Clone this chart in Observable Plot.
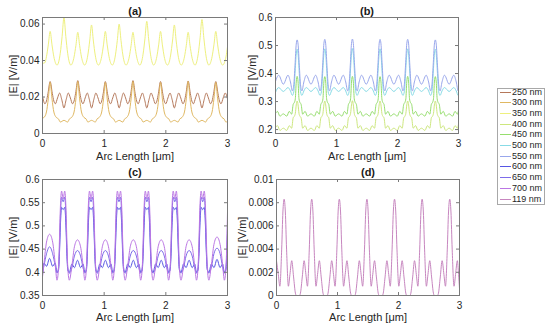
<!DOCTYPE html>
<html><head><meta charset="utf-8">
<script src="https://cdn.jsdelivr.net/npm/d3@7"></script>
<script src="https://cdn.jsdelivr.net/npm/@observablehq/plot@0.6"></script>
<style>
body{margin:0;background:#fff;}
#root{position:relative;width:550px;height:332px;overflow:hidden;font-family:"Liberation Sans",Arial,Helvetica,sans-serif;}
.cell{position:absolute;}
.cell svg{max-width:none;}
#legend{position:absolute;left:497px;top:88px;width:48px;height:117px;border:1px solid #a8a8a8;background:#fff;box-sizing:border-box;}
.row{position:absolute;left:0;height:11px;font-size:9px;color:#262626;line-height:11px;white-space:nowrap;}
.row i{position:absolute;left:2px;top:5px;width:11px;height:0;border-top:1px solid;}
.row span{position:absolute;left:14px;top:0;}
</style></head><body><div id="root"></div><script>
// ---------- labels ----------
const legendNames = ["250 nm","300 nm","350 nm","400 nm","450 nm","500 nm","550 nm","600 nm","650 nm","700 nm","119 nm"];
const legendColors = ["#b5785a","#e0b862","#eef07e","#cde77e","#96de6e","#88dbe6","#99a7ec","#5656e4","#7e6cea","#bb76e4","#c786bf"];
const xTicks = [0, 1, 2, 3];
const yTicksA = [0, 0.02, 0.04, 0.06];
const yTicksB = [0.2, 0.3, 0.4, 0.5, 0.6];
const yTicksC = [0.35, 0.4, 0.45, 0.5, 0.55, 0.6];
const yTicksD = [0, 0.002, 0.004, 0.006, 0.008, 0.01];
const xLabel = "Arc Length [\u03bcm]";
const yLabel = "|E| [V/m]";

// ---------- panel (a) ----------
const x250 = [0,0.039,0.064,0.089,
 0.124,0.159,0.184,0.209,0.244,0.278,0.313,0.348,0.383,0.418,0.452,0.487,0.512,0.537,
 0.572,0.607,0.632,0.657,0.692,0.726,0.761,0.796,0.831,0.866,0.9,0.935,0.96,0.985,
 1.019,1.054,1.079,1.104,1.139,1.173,1.208,1.243,1.278,1.313,1.347,1.382,1.407,1.432,
 1.467,1.502,1.527,1.552,1.587,1.621,1.656,1.691,1.726,1.761,1.795,1.83,1.855,1.88,
 1.914,1.949,1.974,1.999,2.034,2.068,2.103,2.138,2.173,2.208,2.242,2.277,2.302,2.327,
 2.362,2.397,2.422,2.447,2.482,2.516,2.551,2.586,2.621,2.656,2.69,2.725,2.75,2.775,
 2.81,2.845,2.87,2.895,2.93,2.964,3.0];
const y250 = [0.0205,0.0163,0.0178,0.022,
 0.0285,0.022,0.0178,0.0163,0.0195,0.0222,0.0185,0.014,0.0185,0.0222,0.0195,0.0163,0.0178,0.022,
 0.029,0.022,0.0178,0.0163,0.0195,0.0222,0.0185,0.014,0.0185,0.0222,0.0195,0.0163,0.0178,0.022,
 0.0285,0.022,0.0178,0.0163,0.0195,0.0222,0.0185,0.014,0.0185,0.0222,0.0195,0.0163,0.0178,0.022,
 0.029,0.022,0.0178,0.0163,0.0195,0.0222,0.0185,0.014,0.0185,0.0222,0.0195,0.0163,0.0178,0.022,
 0.0285,0.022,0.0178,0.0163,0.0195,0.0222,0.0185,0.014,0.0185,0.0222,0.0195,0.0163,0.0178,0.022,
 0.0288,0.022,0.0178,0.0163,0.0195,0.0222,0.0185,0.014,0.0185,0.0222,0.0195,0.0163,0.0178,0.022,
 0.0285,0.022,0.0178,0.0163,0.0195,0.0222,0.019];

const x300 = [0,0.024,0.064,0.094,
 0.124,0.154,0.184,0.224,0.259,0.288,0.348,0.408,0.437,0.472,0.512,0.542,
 0.572,0.602,0.632,0.672,0.707,0.736,0.796,0.856,0.885,0.92,0.96,0.99,
 1.019,1.049,1.079,1.119,1.154,1.183,1.243,1.303,1.332,1.367,1.407,1.437,
 1.467,1.497,1.527,1.567,1.602,1.631,1.691,1.751,1.78,1.815,1.855,1.885,
 1.914,1.944,1.974,2.014,2.049,2.078,2.138,2.198,2.227,2.262,2.302,2.332,
 2.362,2.392,2.422,2.462,2.497,2.526,2.586,2.646,2.675,2.71,2.75,2.78,
 2.81,2.84,2.87,2.91,2.945,2.974,3.0];
const y300 = [0.0085,0.0088,0.0118,0.019,
 0.028,0.019,0.0118,0.0088,0.008,0.0063,0.0072,0.0063,0.008,0.0088,0.0118,0.019,
 0.0285,0.019,0.0118,0.0088,0.008,0.0063,0.0072,0.0063,0.008,0.0088,0.0118,0.019,
 0.028,0.019,0.0118,0.0088,0.008,0.0063,0.0072,0.0063,0.008,0.0088,0.0118,0.019,
 0.0285,0.019,0.0118,0.0088,0.008,0.0063,0.0072,0.0063,0.008,0.0088,0.0118,0.019,
 0.028,0.019,0.0118,0.0088,0.008,0.0063,0.0072,0.0063,0.008,0.0088,0.0118,0.019,
 0.0285,0.019,0.0118,0.0088,0.008,0.0063,0.0072,0.0063,0.008,0.0088,0.0118,0.019,
 0.028,0.019,0.0118,0.0088,0.008,0.0063,0.0066];

const x350 = [0,0.039,0.064,0.094,0.124,0.154,0.184,0.209,0.236,
 0.263,0.288,0.318,0.348,0.378,0.408,0.433,0.46,
 0.487,0.512,0.542,0.572,0.602,0.632,0.657,0.684,
 0.71,0.735,0.765,0.795,0.825,0.855,0.88,0.907,
 0.934,0.959,0.989,1.019,1.049,1.079,1.104,1.131,
 1.158,1.183,1.213,1.243,1.273,1.303,1.328,1.355,
 1.382,1.407,1.437,1.467,1.497,1.527,1.552,1.579,
 1.606,1.631,1.661,1.691,1.721,1.751,1.776,1.803,
 1.829,1.854,1.884,1.914,1.944,1.974,1.999,2.026,
 2.053,2.078,2.108,2.138,2.168,2.198,2.223,2.25,
 2.277,2.302,2.332,2.362,2.392,2.422,2.447,2.474,
 2.501,2.526,2.556,2.586,2.616,2.646,2.671,2.698,
 2.725,2.75,2.78,2.81,2.84,2.87,2.895,2.922,
 2.95,2.975,3.0];
const y350 = [0.0385,0.0388,0.0421,0.0486,0.056,0.0486,0.0421,0.0388,0.0375,
 0.0393,0.044,0.0532,0.0636,0.0532,0.044,0.0393,0.0375,
 0.0388,0.042,0.0483,0.0555,0.0483,0.042,0.0388,0.0375,
 0.039,0.043,0.0507,0.0595,0.0507,0.043,0.039,0.0375,
 0.0388,0.0421,0.0486,0.056,0.0486,0.0421,0.0388,0.0375,
 0.039,0.0431,0.051,0.06,0.051,0.0431,0.039,0.0375,
 0.0388,0.042,0.0483,0.0555,0.0483,0.042,0.0388,0.0375,
 0.0392,0.0435,0.0519,0.0615,0.0519,0.0435,0.0392,0.0375,
 0.0388,0.0421,0.0486,0.056,0.0486,0.0421,0.0388,0.0375,
 0.039,0.043,0.0507,0.0595,0.0507,0.043,0.039,0.0375,
 0.0388,0.042,0.0483,0.0555,0.0483,0.042,0.0388,0.0375,
 0.0393,0.0438,0.0525,0.0625,0.0525,0.0438,0.0393,0.0375,
 0.0388,0.0421,0.0486,0.056,0.0486,0.0421,0.0388,0.0375,
 0.0388,0.042,0.0475];

// ---------- panel (b) ----------
const xB1 = [0,0.052,
 0.1285,0.205,0.245,0.277,0.3,0.32,0.34,0.355,0.37,0.39,0.41,0.433,0.465,0.505,
 0.5815,0.658,0.698,0.73,0.753,0.773,0.793,0.808,0.823,0.843,0.863,0.886,0.918,0.958,
 1.0345,1.111,1.151,1.183,1.206,1.226,1.246,1.261,1.276,1.296,1.316,1.339,1.371,1.411,
 1.4875,1.564,1.604,1.636,1.659,1.679,1.699,1.714,1.729,1.749,1.769,1.792,1.824,1.864,
 1.9405,2.017,2.057,2.089,2.112,2.132,2.152,2.167,2.182,2.202,2.222,2.245,2.277,2.317,
 2.3935,2.47,2.51,2.542,2.565,2.585,2.605,2.62,2.635,2.655,2.675,2.698,2.73,2.77,
 2.8465,2.923,2.963,2.995,3.0];
const y550 = [0.372,0.394,
 0.362,0.394,0.37,0.338,0.36,0.43,0.505,0.52,0.505,0.43,0.36,0.338,0.37,0.394,
 0.362,0.394,0.37,0.338,0.36,0.43,0.506,0.522,0.506,0.43,0.36,0.338,0.37,0.394,
 0.362,0.394,0.37,0.338,0.36,0.43,0.507,0.523,0.507,0.43,0.36,0.338,0.37,0.394,
 0.362,0.394,0.37,0.338,0.36,0.43,0.506,0.522,0.506,0.43,0.36,0.338,0.37,0.394,
 0.362,0.394,0.37,0.338,0.36,0.43,0.506,0.522,0.506,0.43,0.36,0.338,0.37,0.394,
 0.362,0.394,0.37,0.338,0.36,0.43,0.505,0.52,0.505,0.43,0.36,0.338,0.37,0.394,
 0.362,0.394,0.37,0.338,0.342];
const y500 = [0.333,0.35,
 0.336,0.35,0.338,0.322,0.335,0.40,0.47,0.487,0.47,0.40,0.335,0.322,0.338,0.35,
 0.336,0.35,0.338,0.322,0.335,0.40,0.47,0.488,0.47,0.40,0.335,0.322,0.338,0.35,
 0.336,0.35,0.338,0.322,0.335,0.40,0.47,0.489,0.47,0.40,0.335,0.322,0.338,0.35,
 0.336,0.35,0.338,0.322,0.335,0.40,0.47,0.488,0.47,0.40,0.335,0.322,0.338,0.35,
 0.336,0.35,0.338,0.322,0.335,0.40,0.47,0.488,0.47,0.40,0.335,0.322,0.338,0.35,
 0.336,0.35,0.338,0.322,0.335,0.40,0.47,0.487,0.47,0.40,0.335,0.322,0.338,0.35,
 0.336,0.35,0.338,0.322,0.325];
const xB2 = [0,0.032,0.072,
 0.1285,0.185,0.225,0.265,0.29,0.31,0.325,0.34,0.355,0.37,0.385,0.4,0.42,0.445,0.485,0.525,
 0.5815,0.638,0.678,0.718,0.743,0.763,0.778,0.793,0.808,0.823,0.838,0.853,0.873,0.898,0.938,0.978,
 1.0345,1.091,1.131,1.171,1.196,1.216,1.231,1.246,1.261,1.276,1.291,1.306,1.326,1.351,1.391,1.431,
 1.4875,1.544,1.584,1.624,1.649,1.669,1.684,1.699,1.714,1.729,1.744,1.759,1.779,1.804,1.844,1.884,
 1.9405,1.997,2.037,2.077,2.102,2.122,2.137,2.152,2.167,2.182,2.197,2.212,2.232,2.257,2.297,2.337,
 2.3935,2.45,2.49,2.53,2.555,2.575,2.59,2.605,2.62,2.635,2.65,2.665,2.685,2.71,2.75,2.79,
 2.8465,2.903,2.943,2.983,3.0];
const y450 = [0.257,0.265,0.248,
 0.256,0.248,0.265,0.255,0.29,0.297,0.31,0.37,0.39,0.37,0.31,0.297,0.29,0.255,0.265,0.248,
 0.256,0.248,0.265,0.255,0.29,0.297,0.31,0.37,0.389,0.37,0.31,0.297,0.29,0.255,0.265,0.248,
 0.256,0.248,0.265,0.255,0.29,0.297,0.31,0.37,0.39,0.37,0.31,0.297,0.29,0.255,0.265,0.248,
 0.256,0.248,0.265,0.255,0.29,0.297,0.31,0.37,0.389,0.37,0.31,0.297,0.29,0.255,0.265,0.248,
 0.256,0.248,0.265,0.255,0.29,0.297,0.31,0.37,0.39,0.37,0.31,0.297,0.29,0.255,0.265,0.248,
 0.256,0.248,0.265,0.255,0.29,0.297,0.31,0.37,0.389,0.37,0.31,0.297,0.29,0.255,0.265,0.248,
 0.256,0.248,0.265,0.255,0.268];
const y400 = [0.207,0.214,0.197,
 0.205,0.197,0.214,0.205,0.242,0.248,0.258,0.288,0.302,0.288,0.258,0.248,0.242,0.205,0.214,0.197,
 0.205,0.197,0.214,0.205,0.242,0.248,0.258,0.288,0.302,0.288,0.258,0.248,0.242,0.205,0.214,0.197,
 0.205,0.197,0.214,0.205,0.242,0.248,0.258,0.288,0.303,0.288,0.258,0.248,0.242,0.205,0.214,0.197,
 0.205,0.197,0.214,0.205,0.242,0.248,0.258,0.288,0.302,0.288,0.258,0.248,0.242,0.205,0.214,0.197,
 0.205,0.197,0.214,0.205,0.242,0.248,0.258,0.288,0.302,0.288,0.258,0.248,0.242,0.205,0.214,0.197,
 0.205,0.197,0.214,0.205,0.242,0.248,0.258,0.288,0.302,0.288,0.258,0.248,0.242,0.205,0.214,0.197,
 0.205,0.197,0.214,0.205,0.22];

// ---------- panel (c) ----------
const xC = [0,
 0.025,0.065,0.115,0.165,0.205,
 0.235,0.26,0.275,0.29,0.31,0.335,0.36,0.38,0.395,0.41,0.435,
 0.4775,0.5175,0.5675,0.6175,0.6575,
 0.6875,0.7125,0.7275,0.7425,0.7625,0.7875,0.8125,0.8325,0.8475,0.8625,0.8875,
 0.93,0.97,1.02,1.07,1.11,
 1.14,1.165,1.18,1.195,1.215,1.24,1.265,1.285,1.3,1.315,1.34,
 1.3825,1.4225,1.4725,1.5225,1.5625,
 1.5925,1.6175,1.6325,1.6475,1.6675,1.6925,1.7175,1.7375,1.7525,1.7675,1.7925,
 1.835,1.875,1.925,1.975,2.015,
 2.045,2.07,2.085,2.1,2.12,2.145,2.17,2.19,2.205,2.22,2.245,
 2.2875,2.3275,2.3775,2.4275,2.4675,
 2.4975,2.5225,2.5375,2.5525,2.5725,2.5975,2.6225,2.6425,2.6575,2.6725,2.6975,
 2.74,2.78,2.83,2.88,2.92,
 2.95,2.975,2.99,3.0];
const y600 = [0.395,
 0.42,0.413,0.43,0.413,0.42,
 0.40,0.405,0.44,0.50,0.54,0.535,0.54,0.50,0.44,0.405,0.40,
 0.418,0.41,0.426,0.41,0.418,
 0.40,0.405,0.44,0.50,0.54,0.535,0.54,0.50,0.44,0.405,0.40,
 0.418,0.41,0.426,0.41,0.418,
 0.40,0.405,0.44,0.50,0.54,0.535,0.54,0.50,0.44,0.405,0.40,
 0.418,0.41,0.426,0.41,0.418,
 0.40,0.405,0.44,0.50,0.54,0.535,0.54,0.50,0.44,0.405,0.40,
 0.418,0.41,0.426,0.41,0.418,
 0.40,0.405,0.44,0.50,0.54,0.535,0.54,0.50,0.44,0.405,0.40,
 0.418,0.41,0.426,0.41,0.418,
 0.40,0.405,0.44,0.50,0.54,0.535,0.54,0.50,0.44,0.405,0.40,
 0.418,0.41,0.428,0.41,0.418,
 0.40,0.405,0.44,0.48];
const y650 = [0.40,
 0.415,0.44,0.455,0.44,0.415,
 0.398,0.41,0.45,0.52,0.562,0.552,0.562,0.52,0.45,0.41,0.398,
 0.41,0.435,0.447,0.435,0.41,
 0.398,0.41,0.45,0.52,0.562,0.552,0.562,0.52,0.45,0.41,0.398,
 0.41,0.435,0.447,0.435,0.41,
 0.398,0.41,0.45,0.52,0.562,0.552,0.562,0.52,0.45,0.41,0.398,
 0.41,0.435,0.447,0.435,0.41,
 0.398,0.41,0.45,0.52,0.562,0.552,0.562,0.52,0.45,0.41,0.398,
 0.41,0.435,0.447,0.435,0.41,
 0.398,0.41,0.45,0.52,0.562,0.552,0.562,0.52,0.45,0.41,0.398,
 0.41,0.435,0.447,0.435,0.41,
 0.398,0.41,0.45,0.52,0.562,0.552,0.562,0.52,0.45,0.41,0.398,
 0.412,0.44,0.452,0.44,0.412,
 0.398,0.41,0.45,0.50];
const y700 = [0.39,
 0.42,0.465,0.482,0.465,0.42,
 0.383,0.41,0.47,0.54,0.575,0.558,0.575,0.54,0.47,0.41,0.383,
 0.415,0.455,0.47,0.455,0.415,
 0.383,0.41,0.47,0.54,0.575,0.558,0.575,0.54,0.47,0.41,0.383,
 0.415,0.455,0.47,0.455,0.415,
 0.383,0.41,0.47,0.54,0.575,0.558,0.575,0.54,0.47,0.41,0.383,
 0.415,0.455,0.47,0.455,0.415,
 0.383,0.41,0.47,0.54,0.575,0.558,0.575,0.54,0.47,0.41,0.383,
 0.415,0.455,0.47,0.455,0.415,
 0.383,0.41,0.47,0.54,0.575,0.558,0.575,0.54,0.47,0.41,0.383,
 0.415,0.455,0.47,0.455,0.415,
 0.383,0.41,0.47,0.54,0.575,0.558,0.575,0.54,0.47,0.41,0.383,
 0.418,0.46,0.476,0.46,0.418,
 0.383,0.41,0.47,0.53];

// ---------- panel (d) ----------
const x119 = [0,0.03,0.055,0.085,0.105,0.125,0.145,0.165,0.195,0.22,0.25,0.28,0.31,0.325,0.3775,0.3925,0.4225,
 0.4525,0.4825,0.5075,0.5375,0.5575,0.5775,0.5975,0.6175,0.6475,0.6725,0.7025,0.7325,0.7625,0.7775,0.83,0.845,0.875,
 0.905,0.935,0.96,0.99,1.01,1.03,1.05,1.07,1.1,1.125,1.155,1.185,1.215,1.23,1.2825,1.2975,1.3275,
 1.3575,1.3875,1.4125,1.4425,1.4625,1.4825,1.5025,1.5225,1.5525,1.5775,1.6075,1.6375,1.6675,1.6825,1.735,1.75,1.78,
 1.81,1.84,1.865,1.895,1.915,1.935,1.955,1.975,2.005,2.03,2.06,2.09,2.12,2.135,2.1875,2.2025,2.2325,
 2.2625,2.2925,2.3175,2.3475,2.3675,2.3875,2.4075,2.4275,2.4575,2.4825,2.5125,2.5425,2.5725,2.5875,2.64,2.655,2.685,
 2.715,2.745,2.77,2.8,2.82,2.84,2.86,2.88,2.91,2.935,2.965,2.985,3.0];
const y119 = [0.003,0.0018,0.0008,0.004,0.0072,0.0083,0.0072,0.004,0.0008,0.0018,0.003,0.0016,0.0002,0,0,0.0002,0.0016,
 0.003,0.0018,0.0008,0.004,0.0072,0.0083,0.0072,0.004,0.0008,0.0018,0.003,0.0016,0.0002,0,0,0.0002,0.0016,
 0.003,0.0018,0.0008,0.004,0.0072,0.0083,0.0072,0.004,0.0008,0.0018,0.003,0.0016,0.0002,0,0,0.0002,0.0016,
 0.003,0.0018,0.0008,0.004,0.0072,0.0083,0.0072,0.004,0.0008,0.0018,0.003,0.0016,0.0002,0,0,0.0002,0.0016,
 0.003,0.0018,0.0008,0.004,0.0072,0.0083,0.0072,0.004,0.0008,0.0018,0.003,0.0016,0.0002,0,0,0.0002,0.0016,
 0.003,0.0018,0.0008,0.004,0.0072,0.0083,0.0072,0.004,0.0008,0.0018,0.003,0.0016,0.0002,0,0,0.0002,0.0016,
 0.003,0.0018,0.0008,0.004,0.0072,0.0083,0.0072,0.004,0.0008,0.0018,0.003,0.0018,0.0006];

// ---------- build ----------
function zipXY(xs, ys) {
  const n = Math.min(xs.length, ys.length);
  return d3.range(n).map(i => ({x: xs[i], y: ys[i]}));
}
const FONT = '"Liberation Sans", Arial, Helvetica, sans-serif';
const AX = "#7a7a7a";
const root = document.getElementById("root");

function panel(cfg) {
  const fw = cfg.width - cfg.ml - cfg.mr;
  const fh = cfg.height - cfg.mt - cfg.mb;
  const marks = [];
  for (const s of cfg.series) {
    marks.push(Plot.line(zipXY(s.xs, s.ys), {x: "x", y: "y", stroke: legendColors[s.ci], strokeWidth: 1, curve: "monotone-x", clip: true}));
  }
  marks.push(Plot.frame({stroke: AX, strokeWidth: 1}));
  marks.push(Plot.tickY(cfg.yTicks, {y: d => d, insetRight: fw - 3, stroke: AX}));
  marks.push(Plot.tickY(cfg.yTicks, {y: d => d, insetLeft: fw - 3, stroke: AX}));
  marks.push(Plot.tickX(xTicks, {x: d => d, insetTop: fh - 3, stroke: AX}));
  marks.push(Plot.tickX(xTicks, {x: d => d, insetBottom: fh - 3, stroke: AX}));
  marks.push(Plot.text([cfg.title], {frameAnchor: "top", dy: cfg.titleDy, fontWeight: "bold", fontSize: 11, textAnchor: "middle", lineAnchor: "middle", fill: "#1a1a1a"}));
  marks.push(Plot.text([xLabel], {frameAnchor: "bottom", dy: cfg.xlDy, fontSize: 11, textAnchor: "middle", lineAnchor: "middle", fill: "#262626"}));
  marks.push(Plot.text([yLabel], {frameAnchor: "left", dx: cfg.ylDx, rotate: -90, fontSize: 11, textAnchor: "middle", lineAnchor: "middle", fill: "#262626"}));
  const svg = Plot.plot({
    width: cfg.width, height: cfg.height,
    marginLeft: cfg.ml, marginRight: cfg.mr, marginTop: cfg.mt, marginBottom: cfg.mb,
    style: {fontFamily: FONT, fontSize: "10px", color: "#262626", background: "none", overflow: "visible"},
    x: {domain: [0, 3], ticks: xTicks, tickFormat: d => String(d), tickSize: 0, tickPadding: 6, label: null},
    y: {domain: cfg.yDomain, ticks: cfg.yTicks, tickFormat: d => String(d), tickSize: 0, tickPadding: 3, label: null},
    marks
  });
  const div = document.createElement("div");
  div.className = "cell";
  div.style.left = cfg.left + "px";
  div.style.top = cfg.top + "px";
  div.appendChild(svg);
  root.appendChild(div);
}

panel({left: 0, top: 0, width: 240, height: 165, ml: 42, mr: 13, mt: 17, mb: 32,
  yDomain: [0, 0.0636], yTicks: yTicksA, title: "(a)", titleDy: -6, xlDy: 23, ylDx: -29,
  series: [{xs: x250, ys: y250, ci: 0}, {xs: x300, ys: y300, ci: 1}, {xs: x350, ys: y350, ci: 2}]});
panel({left: 240, top: 0, width: 250, height: 165, ml: 35, mr: 32, mt: 17, mb: 32,
  yDomain: [0.186, 0.6], yTicks: yTicksB, title: "(b)", titleDy: -6, xlDy: 23, ylDx: -23,
  series: [{xs: xB2, ys: y400, ci: 3}, {xs: xB2, ys: y450, ci: 4}, {xs: xB1, ys: y500, ci: 5}, {xs: xB1, ys: y550, ci: 6}]});
panel({left: 0, top: 165, width: 240, height: 167, ml: 42, mr: 13, mt: 14, mb: 37,
  yDomain: [0.35, 0.6], yTicks: yTicksC, title: "(c)", titleDy: -7, xlDy: 22, ylDx: -29,
  series: [{xs: xC, ys: y600, ci: 7}, {xs: xC, ys: y650, ci: 8}, {xs: xC, ys: y700, ci: 9}]});
panel({left: 232, top: 165, width: 250, height: 167, ml: 44, mr: 23, mt: 14, mb: 37,
  yDomain: [0, 0.01], yTicks: yTicksD, title: "(d)", titleDy: -7, xlDy: 22, ylDx: -34,
  series: [{xs: x119, ys: y119, ci: 10}]});

// legend
const leg = document.createElement("div");
leg.id = "legend";
legendNames.forEach((name, i) => {
  const row = document.createElement("div");
  row.className = "row";
  row.style.top = (4.3 + 10.67 * i - 6.5) + "px";
  row.style.width = "46px";
  const line = document.createElement("i");
  line.style.borderTopColor = legendColors[i];
  const t = document.createElement("span");
  t.textContent = name;
  row.appendChild(line); row.appendChild(t);
  leg.appendChild(row);
});
root.appendChild(leg);
</script></body></html>
